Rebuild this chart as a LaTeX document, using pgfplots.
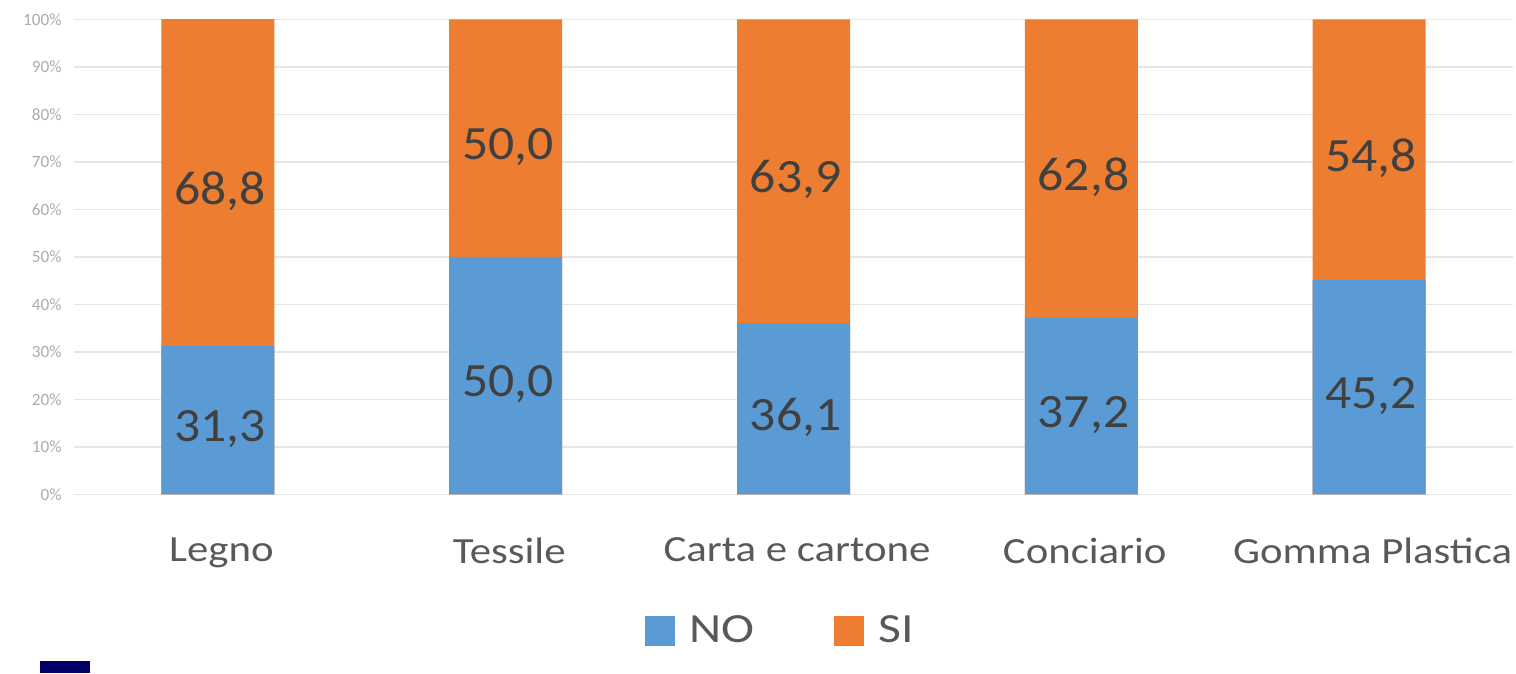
\documentclass[border=0pt]{standalone}
\usepackage{pgfplots}
\usepackage{pgfplotstable}
\pgfplotsset{compat=1.18}
\usepackage{fontspec}
\setmainfont{Carlito}

\definecolor{noblue}{HTML}{5B9BD5}
\definecolor{siorange}{HTML}{ED7D31}
\definecolor{labgray}{HTML}{595959}
\definecolor{gridgray}{HTML}{E6E6E6}

% share of firms (%) per sector: NO / SI
\pgfplotstableread{
x  no    si
0  31.3  68.8
1  50.0  50.0
2  36.1  63.9
3  37.2  62.8
4  45.2  54.8
}\sectors

\begin{document}
\begin{tikzpicture}
\begin{axis}[
    name=ax,
    scale only axis,
    width=14.39cm,
    height=4.75cm,
    xmin=-0.5, xmax=4.5,
    ymin=0, ymax=100,
    axis line style={draw=none},
    tick style={draw=none},
    ytick={0,10,...,100},
    ymajorgrids,
    grid style={gridgray, line width=0.5pt},
    /pgf/number format/assume math mode=true,
    yticklabel={\pgfmathprintnumber{\tick}\%},
    yticklabel style={font=\fontsize{4.9}{6}\selectfont, text=gray!65},
    xtick={0,...,4},
    xticklabels={Legno, Tessile, Carta e cartone, Conciario, Gomma Plastica},
    xticklabel style={font=\fontsize{10.5}{12}\selectfont, text=labgray, xscale=1.16,
        inner xsep=0pt, yshift=-3.1mm, xshift=0.3mm},
    legend style={at={(0.493,-0.288)}, anchor=center, draw=none,
        font=\fontsize{11.8}{13}\selectfont, text=labgray,
        legend columns=2,
        /tikz/every odd column/.append style={column sep=0.6mm},
        /tikz/every even column/.append style={column sep=7.1mm},
        nodes={xscale=1.2}},
    legend image code/.code={\fill[#1] (0cm,-0.15cm) rectangle (0.3cm,0.15cm);},
    clip=false,
    every axis plot/.append style={bar width=1.13cm, bar shift=0pt},
    nodes near coords={\pgfmathprintnumber[fixed, fixed zerofill, precision=1, use comma]{\pgfplotspointmeta}},
    every node near coord/.append style={
        font=\fontsize{13.6}{15}\selectfont, text=black!75, anchor=center,
        xscale=1.08, yshift=-0.85mm, xshift=0.2mm},
]
% SI fills the bar from NO up to 100
\addplot[ybar, fill=siorange, draw=none, nodes near coords={}, forget plot]
    table[x=x, y expr=\thisrow{no}+\thisrow{si}] {\sectors};
\addplot[ybar, fill=noblue, draw=none, nodes near coords={}]
    table[x=x, y=no] {\sectors};
\addlegendentry{NO}
\addlegendimage{fill=siorange, draw=none}
\addlegendentry{SI}
% value labels centred in each segment
\addplot[only marks, mark=none, point meta=explicit, forget plot]
    table[x=x, y expr=\thisrow{no}/2, meta=no] {\sectors};
\addplot[only marks, mark=none, point meta=explicit, forget plot]
    table[x=x, y expr=\thisrow{no}+\thisrow{si}/2, meta=si] {\sectors};
\end{axis}
% small logo fragment at bottom-left and page frame
\fill[blue!40!black] ([xshift=-3.4mm,yshift=-16.7mm]ax.south west) rectangle ([xshift=1.6mm,yshift=-17.9mm]ax.south west);
\path ([xshift=-7.4mm,yshift=-17.9mm]ax.south west) rectangle ([xshift=0.3mm,yshift=1.95mm]ax.north east);
\end{tikzpicture}
\end{document}
